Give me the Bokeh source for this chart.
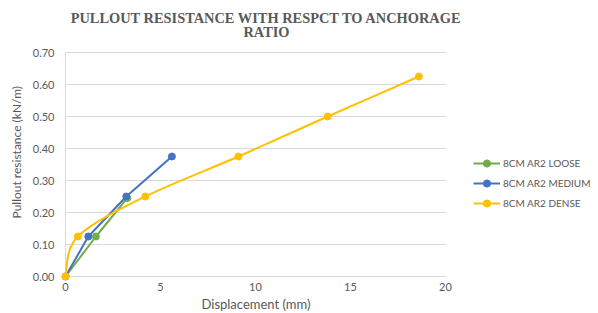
from bokeh.plotting import figure
from bokeh.models import Range1d, Legend, LegendItem, Label, Title, FixedTicker, NumeralTickFormatter
from bokeh.embed import file_html
from bokeh.resources import INLINE

# Data
loose_x = [0.0, 1.6, 3.25]
loose_y = [0.0, 0.125, 0.245]
medium_x = [0.0, 1.2, 3.2, 5.6]
medium_y = [0.0, 0.125, 0.25, 0.375]
dense_x = [0.0, 0.65, 4.2, 9.1, 13.8, 18.6]
dense_y = [0.0, 0.125, 0.25, 0.375, 0.5, 0.625]
labels = ["8CM AR2 LOOSE", "8CM AR2 MEDIUM", "8CM AR2 DENSE"]
colors = ["#70AD47", "#4472C4", "#FFC000"]
x_ticks = [0, 5, 10, 15, 20]
y_ticks = [0.0, 0.1, 0.2, 0.3, 0.4, 0.5, 0.6, 0.7]
title_lines = ["PULLOUT RESISTANCE WITH RESPCT TO ANCHORAGE", "RATIO"]
x_title = "Displacement (mm)"
y_title = "Pullout resistance (kN/m)"

GRAY = "#595959"
GRID = "#D9D9D9"
FONT = "Lato"

# Layout (pixels)
LEFT = 61                      # left border
PLOT_W, PLOT_H = 380, 224      # pixel size of the 0..20 x 0..0.7 area
PAD = 4                        # room around the origin so its markers show
TOP_SPACE = 52                 # room above 0.7 for the title
FRAME_W = 537
FRAME_H = PAD + PLOT_H + TOP_SPACE
xu = 20 / PLOT_W
yu = 0.7 / PLOT_H
x_range = Range1d(-PAD * xu, -PAD * xu + FRAME_W * xu)
y_range = Range1d(-PAD * yu, 0.7 + TOP_SPACE * yu)

p = figure(frame_width=FRAME_W, frame_height=FRAME_H, output_backend="svg",
           toolbar_location=None, title=None, x_range=x_range, y_range=y_range,
           min_border_left=LEFT, min_border_right=0, min_border_bottom=0, min_border_top=0)
p.outline_line_color = None
p.background_fill_color = "white"
p.border_fill_color = "white"

for ax in (p.xaxis[0], p.yaxis[0]):
    ax.axis_line_color = None
    ax.major_tick_line_color = None
    ax.minor_tick_line_color = None
    ax.major_tick_out = 0
    ax.major_tick_in = 0
    ax.minor_tick_out = 0
    ax.minor_tick_in = 0
    ax.major_label_text_color = GRAY
    ax.major_label_text_font = FONT
    ax.major_label_text_font_size = "11px"
p.xaxis.bounds = (0, 20)
p.yaxis.bounds = (0, 0.7)
p.xaxis.ticker = FixedTicker(ticks=x_ticks)
p.yaxis.ticker = FixedTicker(ticks=y_ticks)
p.yaxis.formatter = NumeralTickFormatter(format="0.00")
p.xaxis.major_label_standoff = 2
p.yaxis.major_label_standoff = 7
p.xgrid.grid_line_color = None
p.ygrid.grid_line_color = None

# axis titles, placed along the 0..20 / 0..0.7 part of the axes
p.add_layout(Title(text=x_title, align="left", offset=140, standoff=0,
                   text_font=FONT, text_font_style="normal", text_font_size="13px",
                   text_color=GRAY), "below")
p.add_layout(Title(text=y_title, align="left", offset=62, standoff=12,
                   text_font=FONT, text_font_style="normal", text_font_size="12px",
                   text_color=GRAY), "left")

# gridlines and the vertical axis line
p.segment(x0=[x_ticks[0]] * len(y_ticks), x1=[x_ticks[-1]] * len(y_ticks),
          y0=y_ticks, y1=y_ticks, line_color=GRID, line_width=1)
p.segment(x0=[x_ticks[0]], x1=[x_ticks[0]], y0=[y_ticks[0]], y1=[y_ticks[-1]],
          line_color=GRID, line_width=1)

items = []
l1 = p.line(loose_x, loose_y, line_color=colors[0], line_width=2)
s1 = p.scatter(loose_x, loose_y, size=7, fill_color=colors[0], line_color=colors[0])
items.append(LegendItem(label=labels[0], renderers=[l1, s1]))
l2 = p.line(medium_x, medium_y, line_color=colors[1], line_width=2)
s2 = p.scatter(medium_x, medium_y, size=7, fill_color=colors[1], line_color=colors[1])
items.append(LegendItem(label=labels[1], renderers=[l2, s2]))

# dense: smoothed line (Catmull-Rom bezier through the data points)
n = len(dense_x)
x0, y0, x1, y1, cx0, cy0, cx1, cy1 = [], [], [], [], [], [], [], []
for i in range(n - 1):
    pa = (dense_x[max(i - 1, 0)], dense_y[max(i - 1, 0)])
    pb = (dense_x[i], dense_y[i])
    pc = (dense_x[i + 1], dense_y[i + 1])
    pd = (dense_x[min(i + 2, n - 1)], dense_y[min(i + 2, n - 1)])
    x0.append(pb[0]); y0.append(pb[1]); x1.append(pc[0]); y1.append(pc[1])
    cx0.append(pb[0] + (pc[0] - pa[0]) / 6); cy0.append(pb[1] + (pc[1] - pa[1]) / 6)
    cx1.append(pc[0] - (pd[0] - pb[0]) / 6); cy1.append(pc[1] - (pd[1] - pb[1]) / 6)
l3 = p.bezier(x0=x0, y0=y0, x1=x1, y1=y1, cx0=cx0, cy0=cy0, cx1=cx1, cy1=cy1,
              line_color=colors[2], line_width=2)
s3 = p.scatter(dense_x, dense_y, size=7, fill_color=colors[2], line_color=colors[2])
items.append(LegendItem(label=labels[2], renderers=[l3, s3]))

# legend to the right of the plotting area (location = bottom-left corner)
legend = Legend(items=items, location=(PAD + PLOT_W + 28, 68),
                orientation="vertical",
                label_text_font=FONT, label_text_font_size="10px", label_text_color=GRAY,
                glyph_width=27, glyph_height=18, label_height=18, label_standoff=3,
                spacing=2, padding=0, margin=0, border_line_color=None,
                background_fill_alpha=0)
p.add_layout(legend, "center")

# two-line chart title
for i, t in enumerate(title_lines):
    p.add_layout(Label(x=PAD + PLOT_W / 2 + 11, y=FRAME_H - 17.5 - 14 * i,
                       x_units="screen", y_units="screen", text=t,
                       text_align="center", text_baseline="middle",
                       text_font="Liberation Serif", text_font_style="bold",
                       text_font_size="14.4px", text_color=GRAY))

open("out.html", "w").write(file_html(p, INLINE))
